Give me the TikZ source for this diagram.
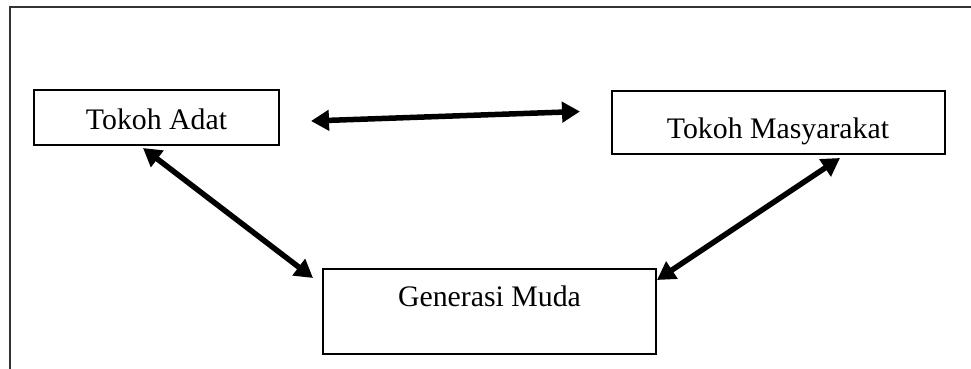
\documentclass[tikz,border=0pt]{standalone}
\usepackage{fontspec}
\setmainfont{Liberation Serif}
\usetikzlibrary{arrows.meta}
\begin{document}
\begin{tikzpicture}[x=1pt,y=-1pt,
  boxstyle/.style={draw=black, line width=1.8pt, rectangle, inner sep=0pt},
  labelstyle/.style={anchor=base, inner sep=0pt, font=\fontsize{29.8}{35}\selectfont},
  linkstyle/.style={line width=5.5pt, {Triangle[length=18pt,width=20pt]}-{Triangle[length=18pt,width=20pt]}},
  framestyle/.style={draw=black!80, line width=2pt}]
\useasboundingbox (0,0) rectangle (971,369);
% frame
\coordinate (fa) at (10,369);
\coordinate (fb) at (10,7.5);
\coordinate (fc) at (971,7.5);
\draw[framestyle] (fa) -- (fb) -- (fc);
% boxes
\node[boxstyle, minimum width=245pt, minimum height=55pt] (adat) at (156.5,117.5) {};
\node[boxstyle, minimum width=333pt, minimum height=63pt] (masy) at (778.5,122.5) {};
\node[boxstyle, minimum width=333pt, minimum height=85pt] (muda) at (489.5,311.5) {};
% labels
\node[labelstyle] (tadat) at (156.5,129) {Tokoh Adat};
\node[labelstyle] (tmasy) at (778,138) {Tokoh Masyarakat};
\node[labelstyle] (tmuda) at (489.5,306) {Generasi Muda};
% arrow ends
\coordinate (h1) at (311,121);
\coordinate (h2) at (580,111.5);
\coordinate (l1) at (143,148);
\coordinate (l2) at (313,278);
\coordinate (r1) at (840,158);
\coordinate (r2) at (657,280);
\draw[linkstyle] (h1) -- (h2);
\draw[linkstyle] (l1) -- (l2);
\draw[linkstyle] (r1) -- (r2);
\end{tikzpicture}
\end{document}
